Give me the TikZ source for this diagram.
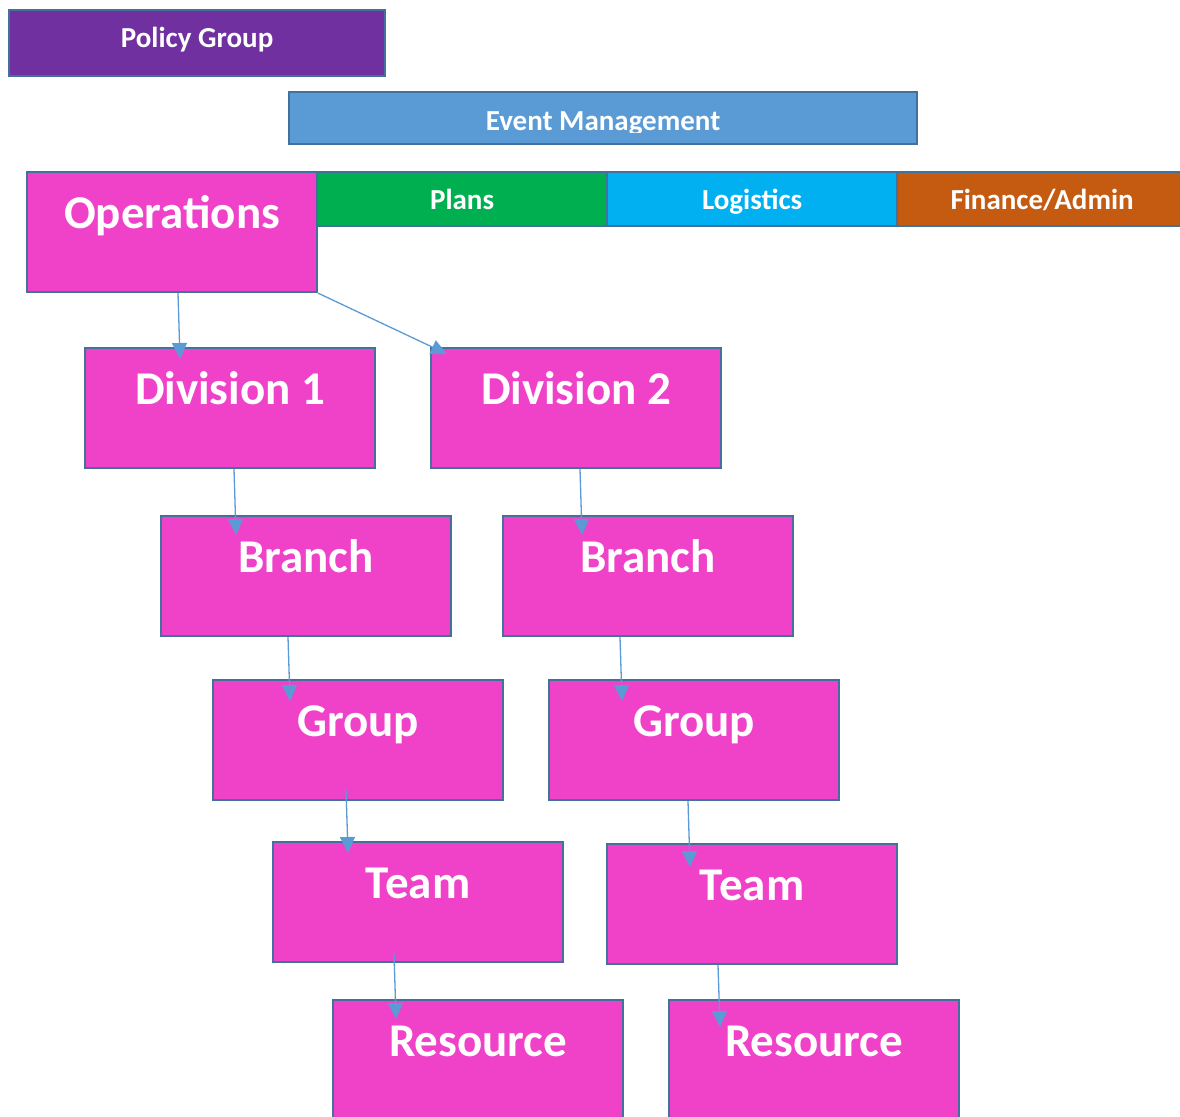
\documentclass[tikz,border=0pt]{standalone}
\usepackage{fontspec}
\setmainfont{Carlito}
\usetikzlibrary{calc,arrows.meta}
\definecolor{pinkbox}{HTML}{EF42C9}
\definecolor{purplebox}{HTML}{7030A0}
\definecolor{bluebox}{HTML}{5B9BD5}
\definecolor{greenbox}{HTML}{00B050}
\definecolor{cyanbox}{HTML}{00B0F0}
\definecolor{orangebox}{HTML}{C55A11}
\definecolor{edgeblue}{HTML}{41719C}
\definecolor{arrowblue}{HTML}{5B9BD5}
\tikzset{
  box/.style={draw=edgeblue, line width=2.2pt, inner sep=0pt, anchor=north west, rectangle},
  bigbox/.style={box, fill=pinkbox, minimum width=290pt, minimum height=120pt},
  smalltxt/.style={text=white, anchor=base, inner sep=0pt, font=\fontsize{29}{29}\selectfont\bfseries},
  bigtxt/.style={text=white, anchor=base, inner sep=0pt, font=\fontsize{47}{47}\selectfont\bfseries},
  arr/.style={draw=arrowblue, line width=1.3pt, -{Triangle[width=15pt,length=16pt]}}
}
\begin{document}
\begin{tikzpicture}[x=1pt,y=-1pt]
\clip (0,0) rectangle (1180,1116);
\fill[white] (0,0) rectangle (1180,1116);
% top bars
\node[box, fill=purplebox, minimum width=376pt, minimum height=66pt] (policy) at (8,9) {};
\node[smalltxt] (policyT) at ($(policy.north)+(0,39)$) {Policy Group};
\node[box, fill=bluebox, minimum width=628pt, minimum height=52pt] (event) at (288,91) {};
\begin{scope}
\clip (288,91) rectangle (916,132);
\node[smalltxt] (eventT) at ($(event.north)+(0,39)$) {Event Management};
\end{scope}
\node[box, fill=greenbox, minimum width=290pt, minimum height=54pt] (plans) at (316,171) {};
\node[smalltxt] (plansT) at ($(plans.north)+(0,38)$) {Plans};
\node[box, fill=cyanbox, minimum width=290pt, minimum height=54pt] (logi) at (606,171) {};
\node[smalltxt] (logiT) at ($(logi.north)+(0,38)$) {Logistics};
\node[box, fill=orangebox, minimum width=290pt, minimum height=54pt] (fin) at (896,171) {};
\node[smalltxt] (finT) at ($(fin.north)+(0,38)$) {Finance/Admin};
% hierarchy boxes
\node[bigbox] (ops) at (26,171) {};
\node[bigtxt] (opsT) at ($(ops.north)+(0,57)$) {Operations};
\node[bigbox] (div1) at (84,347) {};
\node[bigtxt] (div1T) at ($(div1.north)+(0,57)$) {Division 1};
\node[bigbox] (div2) at (430,347) {};
\node[bigtxt] (div2T) at ($(div2.north)+(0,57)$) {Division 2};
\node[bigbox] (brL) at (160,515) {};
\node[bigtxt] (brLT) at ($(brL.north)+(0,57)$) {Branch};
\node[bigbox] (brR) at (502,515) {};
\node[bigtxt] (brRT) at ($(brR.north)+(0,57)$) {Branch};
\node[bigbox] (grL) at (212,679) {};
\node[bigtxt] (grLT) at ($(grL.north)+(0,57)$) {Group};
\node[bigbox] (grR) at (548,679) {};
\node[bigtxt] (grRT) at ($(grR.north)+(0,57)$) {Group};
\node[bigbox] (tmL) at (272,841) {};
\node[bigtxt] (tmLT) at ($(tmL.north)+(0,57)$) {Team};
\node[bigbox] (tmR) at (606,843) {};
\node[bigtxt] (tmRT) at ($(tmR.north)+(0,57)$) {Team};
\node[bigbox] (rsL) at (332,999) {};
\node[bigtxt] (rsLT) at ($(rsL.north)+(0,57)$) {Resource};
\node[bigbox] (rsR) at (668,999) {};
\node[bigtxt] (rsRT) at ($(rsR.north)+(0,57)$) {Resource};
% connectors
\draw[arr] ($(ops.south west)+(152,0)$) -- ($(div1.north west)+(96,12)$);
\draw[arr] (ops.south east) -- ($(div2.north west)+(17,7)$);
\draw[arr] ($(div1.south west)+(150,0)$) -- ($(brL.north west)+(76,20)$);
\draw[arr] ($(div2.south west)+(150,0)$) -- ($(brR.north west)+(80,20)$);
\draw[arr] ($(brL.south west)+(128,0)$) -- ($(grL.north west)+(78,22)$);
\draw[arr] ($(brR.south west)+(118,0)$) -- ($(grR.north west)+(74,22)$);
\draw[arr] ($(grL.south west)+(134,-12)$) -- ($(tmL.north west)+(76,12)$);
\draw[arr] ($(grR.south west)+(140,0)$) -- ($(tmR.north west)+(84,24)$);
\draw[arr] ($(tmL.south west)+(122,-10)$) -- ($(rsL.north west)+(64,20)$);
\draw[arr] ($(tmR.south west)+(112,0)$) -- ($(rsR.north west)+(52,28)$);
\end{tikzpicture}
\end{document}
